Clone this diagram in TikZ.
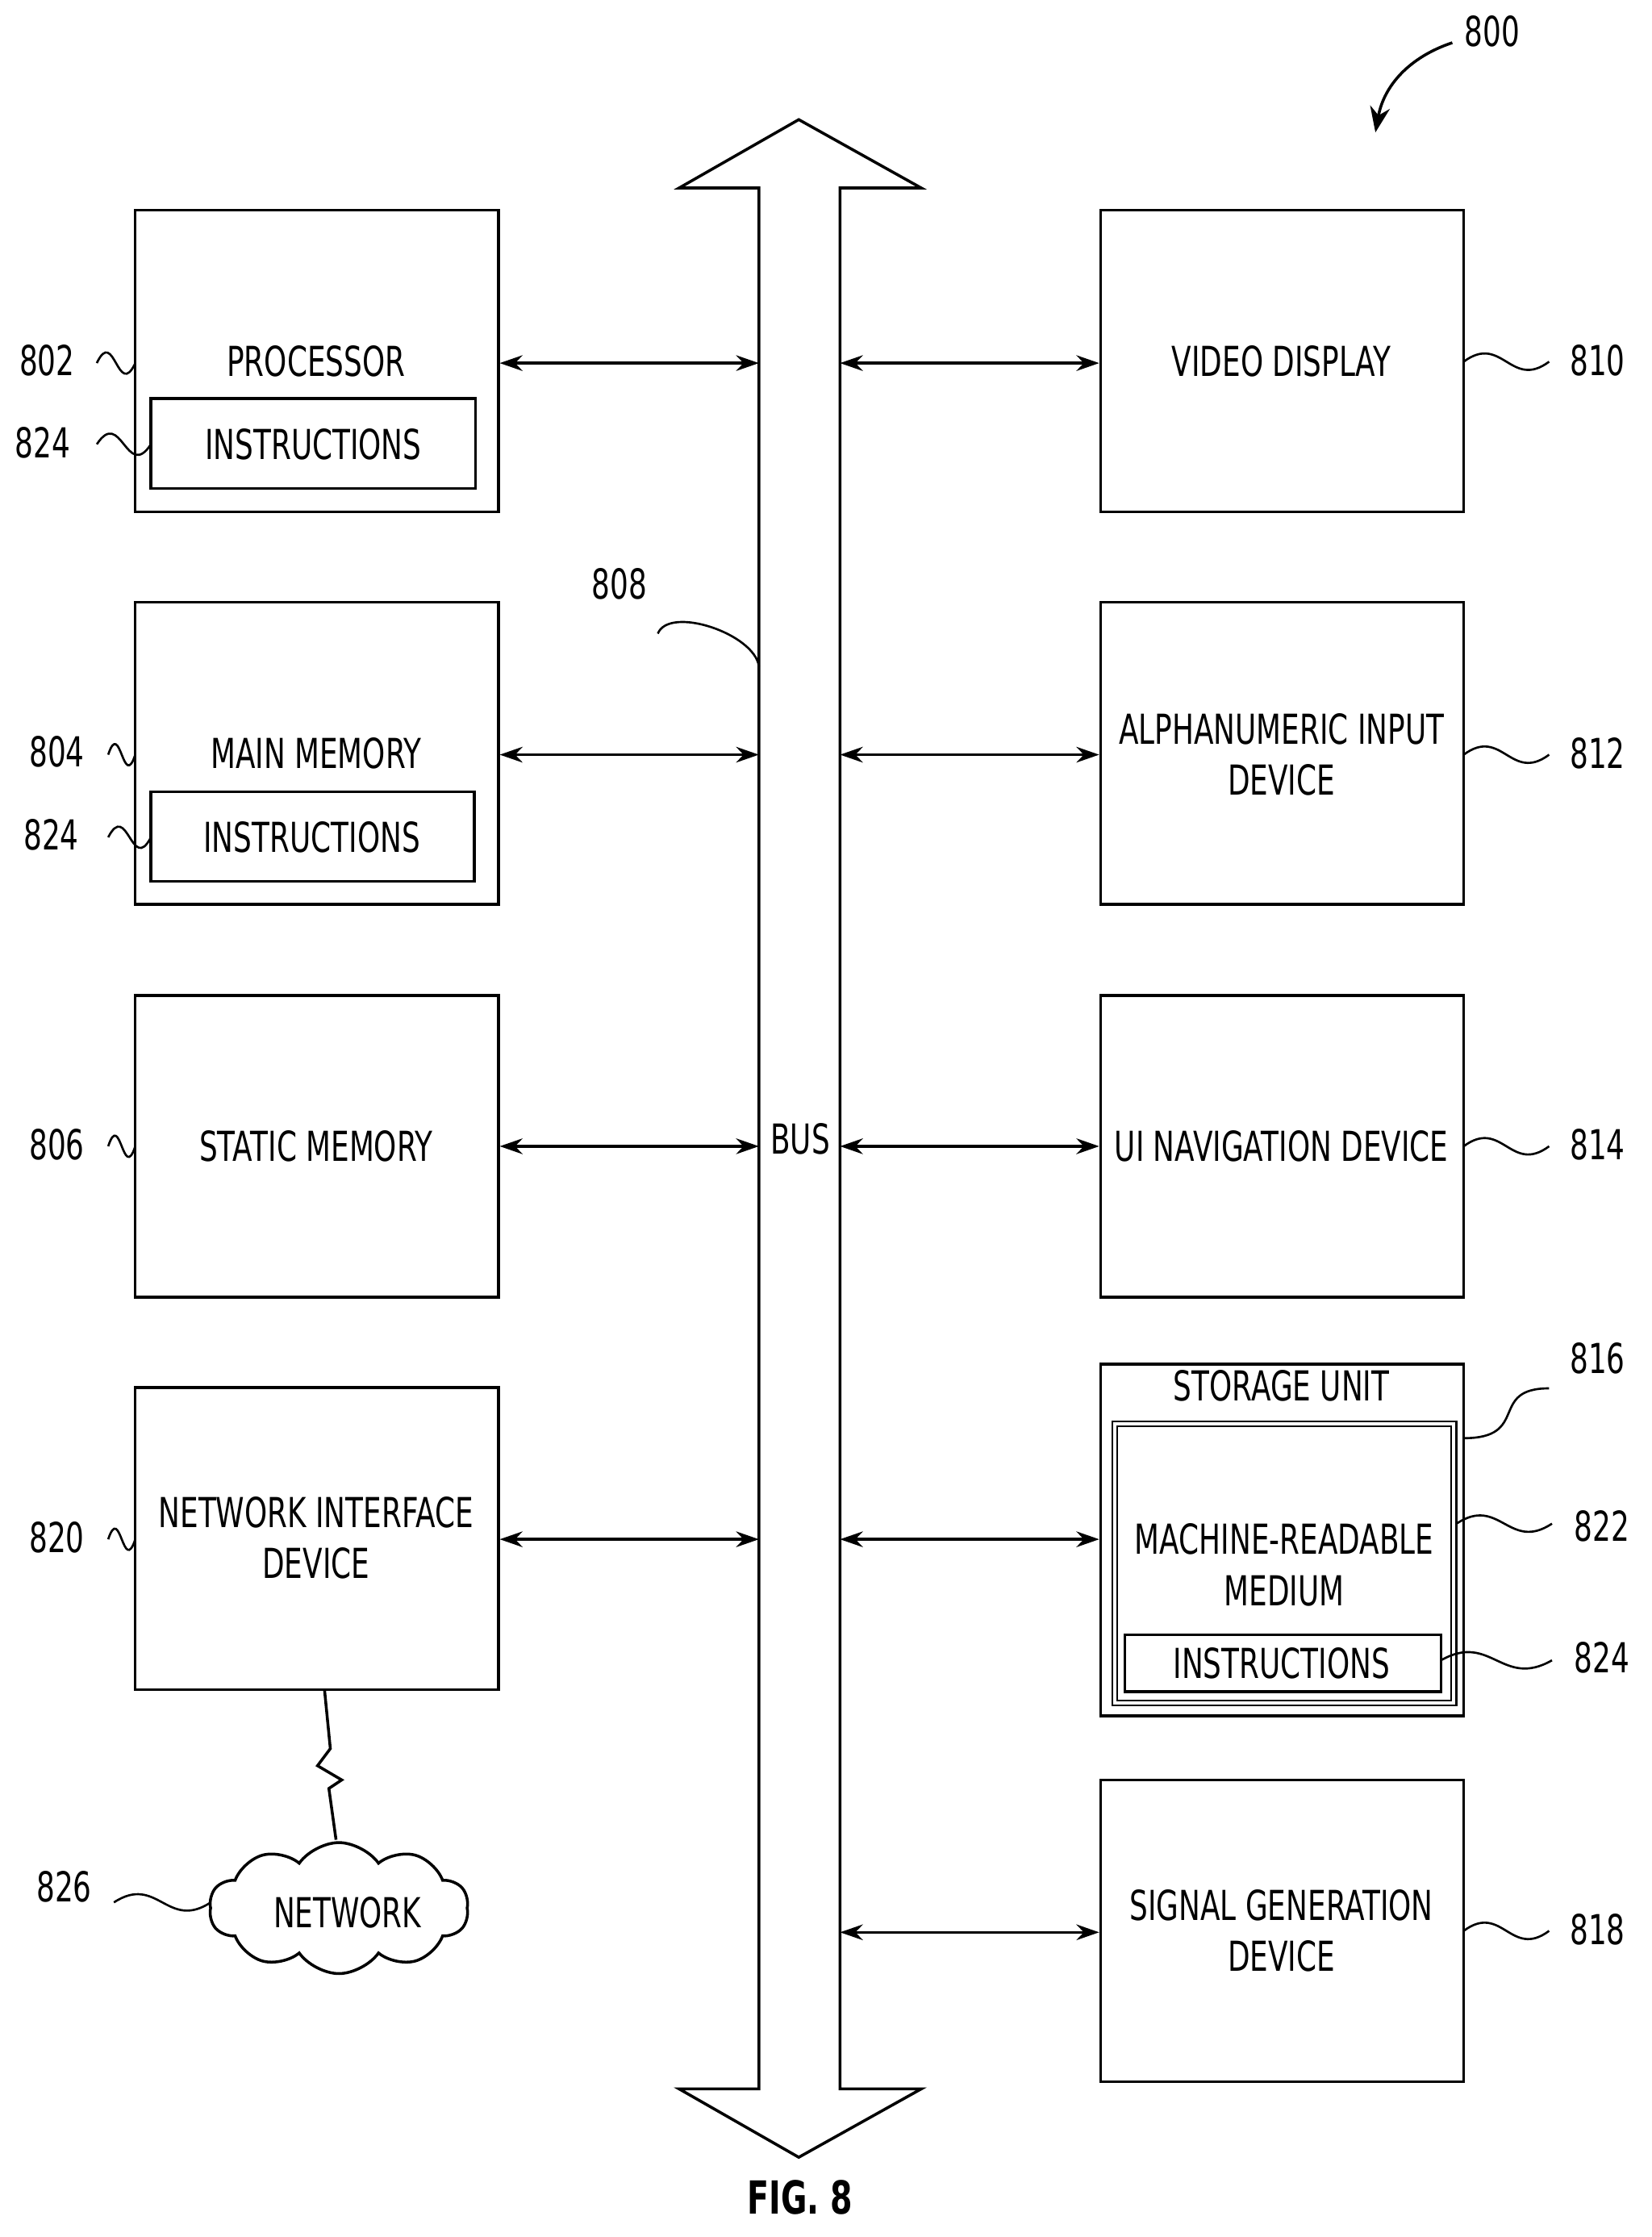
\documentclass[tikz,border=0pt]{standalone}
\usepackage{fontspec}
\setmainfont{DejaVu Sans}[FakeStretch=0.7]
\usetikzlibrary{arrows.meta,shapes.symbols}
\begin{document}
\begin{tikzpicture}[x=1pt,y=-1pt,line width=2pt,
  box/.style={draw,minimum width=255pt,minimum height=212pt,inner sep=0pt},
  ibox/.style={draw,inner sep=0pt},
  txt/.style={font=\fontsize{29}{36}\selectfont,align=center,inner sep=0pt},
  lab/.style={font=\fontsize{29}{36}\selectfont,inner sep=0pt},
  conn/.style={{Stealth[length=16pt,width=11pt]}-{Stealth[length=16pt,width=11pt]}},
  sq/.style={line width=1.5pt}]
\useasboundingbox (0,0) rectangle (1160,1571);
% bus
\draw (533,1467) -- (533,132) -- (477,132) -- (561,84) -- (647,132) -- (590,132) -- (590,1467) -- (647,1467) -- (561,1515) -- (477,1467) -- cycle;
\node[txt] (bus) at (562,800) {BUS};
\coordinate (bl1) at (533,255); \coordinate (bl2) at (533,530); \coordinate (bl3) at (533,805); \coordinate (bl4) at (533,1081);
\coordinate (br1) at (590,255); \coordinate (br2) at (590,530); \coordinate (br3) at (590,805); \coordinate (br4) at (590,1081); \coordinate (br5) at (590,1357);
% left boxes
\node[box] (proc) at (222.5,253.5) {};
\node[txt] at (222,254) {PROCESSOR};
\node[ibox,minimum width=228pt,minimum height=63pt] (pi) at (220,311.5) {};
\node[txt] at (220,312) {INSTRUCTIONS};
\node[box] (mm) at (222.5,529) {};
\node[txt] at (222,529) {MAIN MEMORY};
\node[ibox,minimum width=227pt,minimum height=63pt] (mi) at (219.5,587.5) {};
\node[txt] at (219,588) {INSTRUCTIONS};
\node[box] (sm) at (222.5,805) {};
\node[txt] at (222,805) {STATIC MEMORY};
\node[box] (nid) at (222.5,1080.5) {};
\node[txt] at (222,1080) {NETWORK INTERFACE\\DEVICE};
% right boxes
\node[box] (vd) at (900.5,253.5) {};
\node[txt] at (900,254) {VIDEO DISPLAY};
\node[box] (aid) at (900.5,529) {};
\node[txt] at (900,530) {ALPHANUMERIC INPUT\\DEVICE};
\node[box] (ui) at (900.5,805) {};
\node[txt] at (900,805) {UI NAVIGATION DEVICE};
\node[box,minimum height=247pt] (su) at (900.5,1081.5) {};
\node[txt] at (900,973) {STORAGE UNIT};
\node[ibox,double,line width=1.2pt,double distance=2.5pt,minimum width=238pt,minimum height=196pt] (mr) at (902,1098) {};
\node[txt] at (902,1099) {MACHINE-READABLE\\MEDIUM};
\node[ibox,minimum width=222pt,minimum height=40pt] (si) at (901,1168) {};
\node[txt] at (900,1168) {INSTRUCTIONS};
\node[box] (sg) at (900.5,1356) {};
\node[txt] at (900,1356) {SIGNAL GENERATION\\DEVICE};
% connectors
\draw[conn] (proc.east |- bl1) -- (bl1);
\draw[conn] (mm.east |- bl2) -- (bl2);
\draw[conn] (sm.east |- bl3) -- (bl3);
\draw[conn] (nid.east |- bl4) -- (bl4);
\draw[conn] (br1) -- (vd.west |- br1);
\draw[conn] (br2) -- (aid.west |- br2);
\draw[conn] (br3) -- (ui.west |- br3);
\draw[conn] (br4) -- (su.west |- br4);
\draw[conn] (br5) -- (sg.west |- br5);
% network
\node[draw,cloud,cloud puffs=10,cloud puff arc=110,aspect=2.2,minimum width=182pt,minimum height=92pt,inner sep=0pt] (net) at (238,1340) {};
\node[txt] at (244,1343) {NETWORK};
\draw[line width=2pt,line join=miter] (nid.south -| 228,0) -- (232,1228) -- (223,1240) -- (240,1250) -- (231,1256) -- (236,1292);
% reference labels
\newcommand{\sqg}[4]{\draw[sq] (#1,#3) .. controls ({#1+0.45*(#2-#1)},{#3-#4}) and ({#1+0.55*(#2-#1)},{#3+#4}) .. (#2,#3);}
\node[lab] at (33,253) {802}; \sqg{68}{95}{255}{26}
\node[lab] at (30,311) {824}; \sqg{68}{106}{312}{26}
\node[lab] at (40,528) {804}; \sqg{76}{95}{530}{26}
\node[lab] at (36,586) {824}; \sqg{76}{106}{588}{26}
\node[lab] at (40,804) {806}; \sqg{76}{95}{805}{26}
\node[lab] at (40,1080) {820}; \sqg{76}{95}{1081}{26}
\node[lab] at (1122,253) {810}; \sqg{1028}{1088}{254}{20}
\node[lab] at (1122,529) {812}; \sqg{1028}{1088}{530}{20}
\node[lab] at (1122,804) {814}; \sqg{1028}{1088}{805}{20}
\node[lab] at (1125,1072) {822}; \sqg{1023}{1090}{1070}{20}
\node[lab] at (1125,1164) {824}; \sqg{1012}{1090}{1166}{20}
\node[lab] at (1122,1355) {818}; \sqg{1028}{1088}{1356}{20}
\node[lab] at (45,1325) {826}; \sqg{80}{148}{1336}{20}
\node[lab] at (1122,954) {816};
\draw[sq] (1028,1010) .. controls (1075,1010) and (1045,975) .. (1088,975);
\node[lab] at (435,410) {808};
\draw[sq] (462,445) .. controls (470,425) and (530,445) .. (533,468);
\node[lab] at (1048,22) {800};
\draw[line width=2pt,-{Stealth[length=18pt,width=14pt]}] (1020,30) .. controls (990,40) and (972,60) .. (966,93);
\node[font=\bfseries\fontsize{32}{38}\selectfont,inner sep=0pt] (fig) at (562,1543) {FIG. 8};
\end{tikzpicture}
\end{document}
